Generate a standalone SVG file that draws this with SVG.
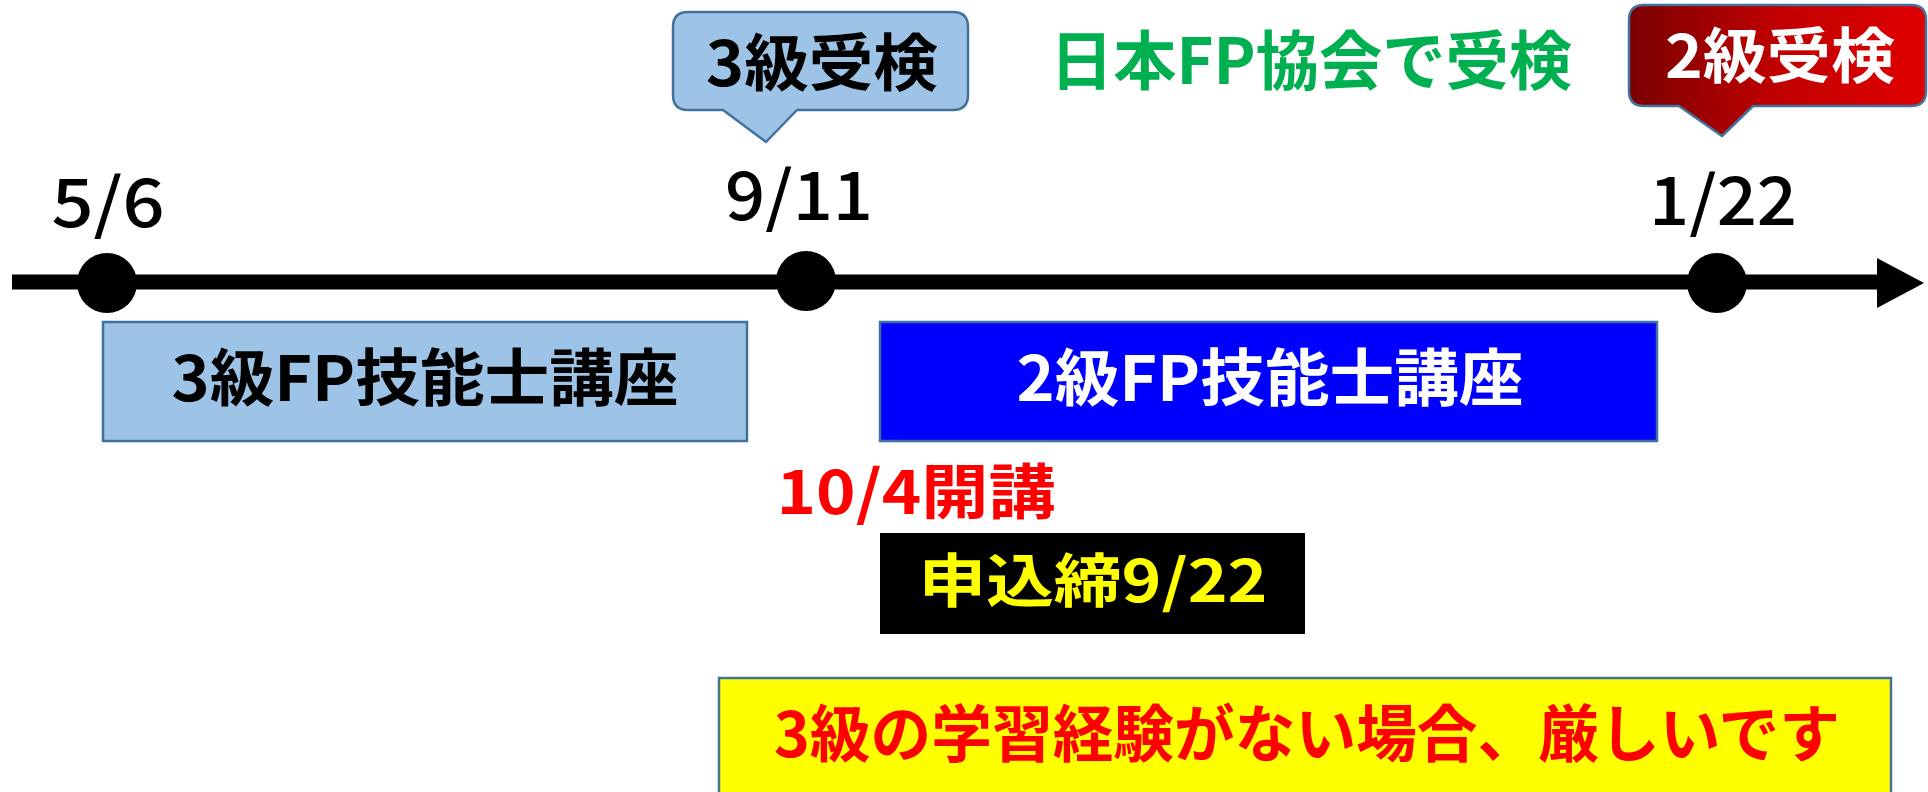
<svg xmlns="http://www.w3.org/2000/svg" width="1928" height="792" viewBox="0 0 1928 792">
<style>
text{font-family:"Noto Sans CJK JP","Noto Sans",sans-serif;font-weight:700;text-anchor:middle}
.date{font-size:67px;fill:#000;font-weight:500}
.box{stroke:#41719C;stroke-width:2.5}
.call{stroke:#41719C;stroke-width:2.5;stroke-linejoin:round}
</style>
<defs>
<linearGradient id="redg" x1="0" y1="0" x2="1" y2="0">
<stop offset="0" stop-color="#7A0000"/>
<stop offset="0.5" stop-color="#C00000"/>
<stop offset="1" stop-color="#E00000"/>
</linearGradient>
</defs>
<g id="connectors">
<line x1="12" y1="282" x2="1880" y2="282" stroke="#000" stroke-width="15"/>
<polygon points="1877,258 1924,283 1877,308" fill="#000"/>
</g>
<g id="dot-5-6"><circle cx="107" cy="283" r="30" fill="#000"/><text class="date" x="108" y="227" textLength="113" lengthAdjust="spacingAndGlyphs">5/6</text></g>
<g id="dot-9-11"><circle cx="806" cy="281" r="30" fill="#000"/><text class="date" x="799" y="220" textLength="148" lengthAdjust="spacingAndGlyphs">9/11</text></g>
<g id="dot-1-22"><circle cx="1717" cy="283" r="30" fill="#000"/><text class="date" x="1723" y="225" textLength="148" lengthAdjust="spacingAndGlyphs">1/22</text></g>
<g id="callout-3">
<path class="call" fill="#9DC3E6" d="M688,12 H953 Q968,12 968,27 V95 Q968,110 953,110 H797 L766,142 L723,110 H688 Q673,110 673,95 V27 Q673,12 688,12 Z"/>
<text x="822" y="86" font-size="62" fill="#000" textLength="232" lengthAdjust="spacingAndGlyphs">3級受検</text>
</g>
<g id="callout-2">
<path class="call" fill="url(#redg)" d="M1644,5 H1911 Q1926,5 1926,20 V91 Q1926,106 1911,106 H1753 L1722,136 L1679,106 H1644 Q1629,106 1629,91 V20 Q1629,5 1644,5 Z"/>
<text x="1780" y="78" font-size="60" fill="#fff" textLength="230" lengthAdjust="spacingAndGlyphs">2級受検</text>
</g>
<g id="label-fp">
<text x="1311" y="84" font-size="64" fill="#00B050" textLength="522" lengthAdjust="spacingAndGlyphs">日本FP協会で受検</text>
</g>
<g id="course-3">
<rect class="box" x="103" y="322" width="644" height="119" fill="#9DC3E6"/>
<text x="425" y="401" font-size="62" fill="#000" textLength="507" lengthAdjust="spacingAndGlyphs">3級FP技能士講座</text>
</g>
<g id="course-2">
<rect class="box" x="880" y="322" width="777" height="119" fill="#0000FF"/>
<text x="1270" y="401" font-size="62" fill="#fff" textLength="507" lengthAdjust="spacingAndGlyphs">2級FP技能士講座</text>
</g>
<g id="start">
<text x="916" y="514" font-size="60" fill="#FF0000" textLength="279" lengthAdjust="spacingAndGlyphs">10/4開講</text>
</g>
<g id="deadline">
<rect x="880" y="533" width="425" height="101" fill="#000"/>
<text x="1093" y="602" font-size="58" fill="#FFFF00" textLength="349" lengthAdjust="spacingAndGlyphs">申込締9/22</text>
</g>
<g id="note">
<rect class="box" x="719" y="678" width="1172" height="130" fill="#FFFF00"/>
<text x="1307" y="757" font-size="62" fill="#FF0000" textLength="1066" lengthAdjust="spacingAndGlyphs">3級の学習経験がない場合、厳しいです</text>
</g>
</svg>
